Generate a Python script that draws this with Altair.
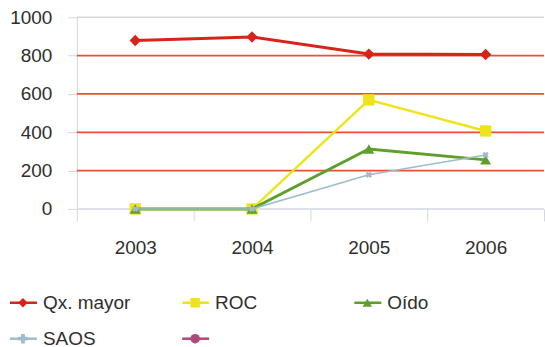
import altair as alt
import pandas as pd

# Series values per year
years = ["2003", "2004", "2005", "2006"]
qx_mayor = [879, 897, 808, 806]
roc = [0, 0, 569, 407]
oido = [0, 0, 313, 256]
saos = [0, 0, 178, 282]

series_names = ["Qx. mayor", "ROC", "Oído", "SAOS", " "]
series_colors = ["#d8231b", "#efe41a", "#5e9f2c", "#9fbccb", "#b0487a"]
series_shapes = ["diamond", "square", "triangle-up", "cross", "circle"]
series_sizes = [130, 130, 120, 40, 20]
series_widths = [3, 2.5, 3, 1.5, 1.5]

grid_values = [200, 400, 600, 800]
frame_values = [0, 1000]

legend_cols = [0, 1, 2, 0, 1]
legend_rows = [0, 0, 0, 1, 1]

FONT = "Liberation Sans"
FS = 19
TEXT = "#2e2e2e"
GRID_RED = "#e8502f"
FRAME = "#d3d7df"

rows = []
for name, vals in zip(series_names[:4], [qx_mayor, roc, oido, saos]):
    for y, v in zip(years, vals):
        rows.append({"serie": name, "year": y, "value": v})
df = pd.DataFrame(rows)

x_enc = alt.X(
    "year:N",
    sort=years,
    title=None,
    scale=alt.Scale(domain=years, paddingInner=0, paddingOuter=0),
    axis=alt.Axis(
        labelAngle=0, labelFont=FONT, labelFontSize=FS, labelColor=TEXT,
        tickBand="extent", tickSize=12, tickColor=FRAME, labelPadding=18,
        domain=False, grid=False, labelOverlap=False,
    ),
)
y_scale = alt.Scale(domain=[0, 1000], nice=False)
y_axis = alt.Axis(
    values=[0, 200, 400, 600, 800, 1000], format="d", labelFont=FONT,
    labelFontSize=FS, labelColor=TEXT, tickSize=9, tickColor=FRAME,
    labelPadding=16, domain=True, domainColor=FRAME, grid=False,
    minExtent=77, maxExtent=77, labelOverlap=False,
)
y_enc = alt.Y("value:Q", scale=y_scale, axis=y_axis, title=None)

base = alt.Chart(df)

red_grid = alt.Chart(pd.DataFrame({"value": grid_values})).mark_rule(
    color=GRID_RED, strokeWidth=1.7
).encode(y=y_enc)

frame = alt.Chart(pd.DataFrame({"value": frame_values})).mark_rule(
    color=FRAME, strokeWidth=1.5
).encode(y=y_enc)

layers = [red_grid, frame]
for name, color, shape, size, width in zip(
    series_names[:4], series_colors, series_shapes, series_sizes, series_widths
):
    sub = base.transform_filter(alt.datum.serie == name)
    layers.append(
        sub.mark_line(color=color, strokeWidth=width).encode(x=x_enc, y=y_enc)
    )
    layers.append(
        sub.mark_point(
            shape=shape, size=size, color=color, filled=True,
            opacity=1, angle=45 if shape == "cross" else 0,
        ).encode(x=x_enc, y=y_enc)
    )

main = alt.layer(*layers).properties(width=468, height=192)

# Legend drawn as its own small panel, two rows of entries.
# The panel sits under the plot area, so its column scale starts left of it.
leg_df = pd.DataFrame({
    "serie": series_names, "col": legend_cols, "row": legend_rows,
})
lx = alt.X("col:Q", scale=alt.Scale(domain=[0.44638, 3.05507], nice=False, zero=False), axis=None)
ly = alt.Y("row:Q", scale=alt.Scale(domain=[-0.6111, 1.2778], reverse=True, nice=False, zero=False), axis=None)
color_enc = alt.Color("serie:N", scale=alt.Scale(domain=series_names, range=series_colors), legend=None)
shape_enc = alt.Shape("serie:N", scale=alt.Scale(domain=series_names, range=series_shapes), legend=None)
size_enc = alt.Size("serie:N", scale=alt.Scale(domain=series_names, range=[90, 90, 90, 30, 15]), legend=None)

leg_base = alt.Chart(leg_df)
leg_lines = leg_base.mark_rule(strokeWidth=2.5, xOffset=10, x2Offset=37).encode(
    x=lx, x2="col:Q", y=ly, color=color_enc
)
leg_marks = leg_base.mark_point(filled=True, opacity=1, xOffset=23).encode(
    x=lx, y=ly, color=color_enc, shape=shape_enc, size=size_enc
)
leg_text = leg_base.mark_text(
    align="left", baseline="middle", dx=43, font=FONT, fontSize=FS, color=TEXT,
).encode(x=lx, y=ly, text="serie:N")

legend = alt.layer(leg_lines, leg_marks, leg_text).properties(width=450, height=68)

chart = alt.vconcat(main, legend, spacing=23).properties(
    padding={"left": 0, "top": 8, "right": 0, "bottom": 0},
    background="white",
).configure_view(stroke=None).configure_axis(labelOverlap=False)

chart.save("out.html", embed_options={"renderer": "svg", "actions": False})
